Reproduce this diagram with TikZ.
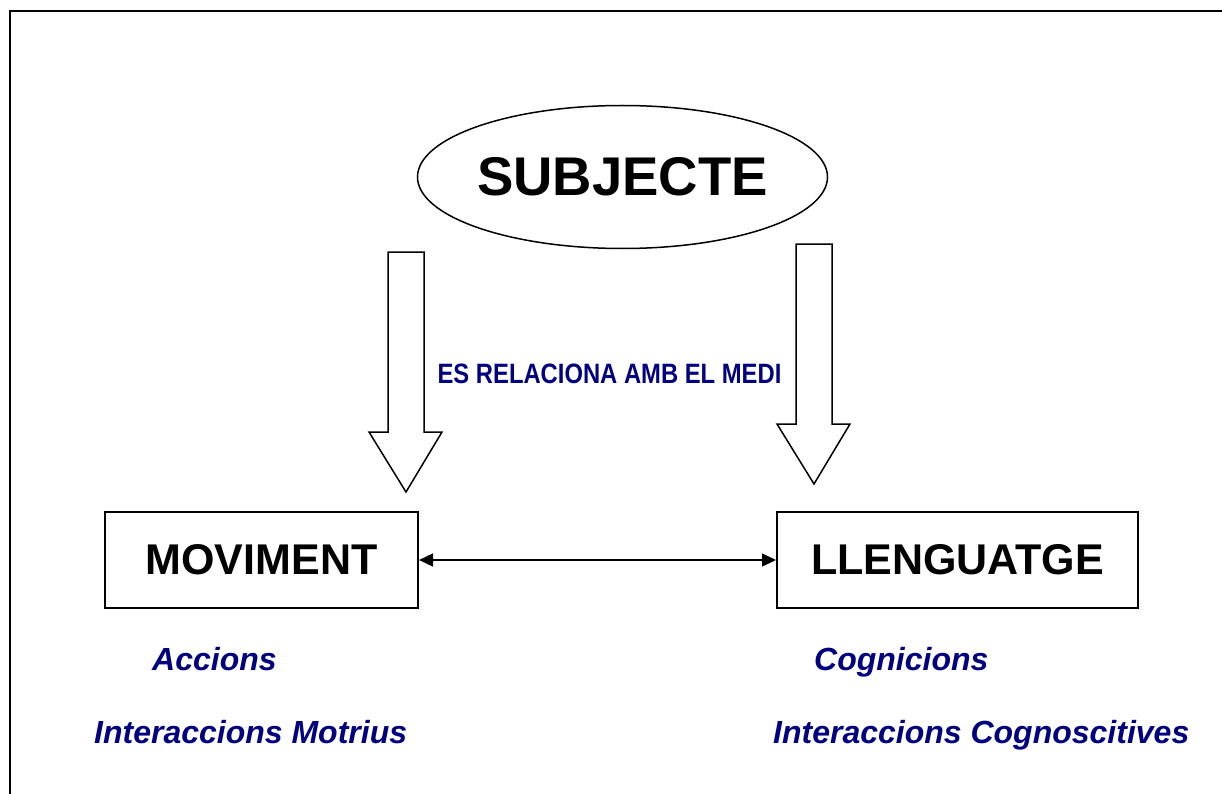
\documentclass[tikz,border=0pt]{standalone}
\usepackage{fontspec}
\setmainfont{Liberation Sans}
\usetikzlibrary{shapes.geometric,arrows.meta}
\definecolor{navyblue}{HTML}{000080}
\tikzset{
  pics/blockarrow/.style={code={
    \draw[line width=1.5pt, fill=white, line join=miter]
      (-18,0) -- (18,0) -- (18,180) -- (36,180) -- (0,240) -- (-37,180) -- (-18,180) -- cycle;
  }},
  conceptbox/.style={draw, line width=2pt, inner sep=0pt, minimum height=96pt,
    font=\fontsize{43}{46}\selectfont\bfseries},
  subitem/.style={anchor=base west, inner sep=0pt, text=navyblue,
    font=\fontsize{32}{36}\selectfont\bfseries\itshape},
}
\begin{document}
\begin{tikzpicture}[x=1pt,y=-1pt]
\useasboundingbox[fill=white] (0,0) rectangle (1222,794);
\draw[line width=2pt] (10,794) -- (10,11) -- (1222,11);

\node[ellipse, draw, line width=1.5pt, inner sep=0pt, outer sep=0pt, minimum width=410pt, minimum height=143pt,
      font=\fontsize{54.5}{60}\selectfont\bfseries] (subj) at (622.5,177) {\makebox[0pt]{SUBJECTE}};

\pic at (406,252) {blockarrow};
\pic at (814,244) {blockarrow};

\node[anchor=base, inner sep=0pt, text=navyblue, font=\fontsize{28}{32}\selectfont\bfseries]
  (rel) at (609.5,383) {\scalebox{0.85}[1]{ES RELACIONA AMB EL MEDI}};

\node[conceptbox, minimum width=313pt] (mov) at (261.5,560) {MOVIMENT};
\node[conceptbox, minimum width=361pt] (lle) at (957.5,560) {LLENGUATGE};

\draw[line width=1.3pt, {Triangle[length=14pt,width=13pt]}-{Triangle[length=14pt,width=13pt]}]
  (mov.east) -- (lle.west);

\node[subitem] (acc) at (152,670) {Accions};
\node[subitem] (intm) at (94,743) {Interaccions Motrius};
\node[subitem] (cog) at (814,670) {Cognicions};
\node[subitem] (intc) at (773,743) {Interaccions Cognoscitives};
\end{tikzpicture}
\end{document}
